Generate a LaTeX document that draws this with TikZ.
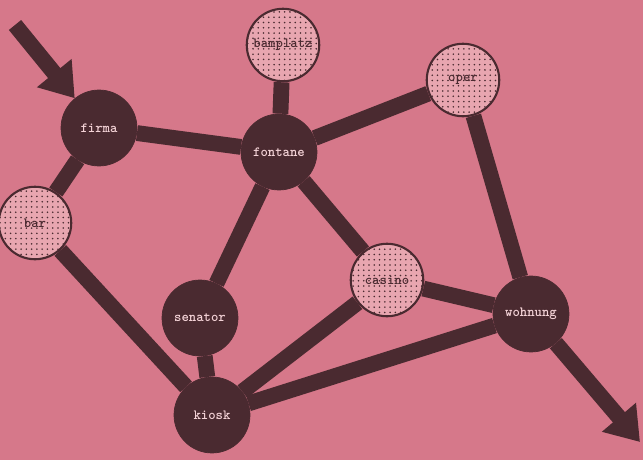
\documentclass[tikz,border=0pt]{standalone}
\usepackage{tikz}
\usetikzlibrary{arrows.meta, patterns, backgrounds}
\definecolor{bgpink}{RGB}{214,120,138}
\definecolor{darkplum}{RGB}{74,42,48}
\definecolor{lightpink}{RGB}{232,166,176}

\begin{document}
\begin{tikzpicture}[
    x=0.02cm, y=-0.02cm,
    dark/.style   = {circle, draw=darkplum, fill=darkplum, minimum size=1.52cm,
                     inner sep=0pt, text=lightpink!50!white,
                     font=\fontsize{8}{8}\selectfont\ttfamily\bfseries},
    light/.style  = {circle, draw=darkplum, line width=1.2pt, fill=lightpink,
                     minimum size=1.45cm, inner sep=0pt, text=darkplum,
                     postaction={pattern=dots, pattern color=darkplum},
                     font=\fontsize{8}{8}\selectfont\ttfamily\bfseries},
    edge/.style   = {line width=9pt, darkplum},
    flow/.style   = {line width=9pt, darkplum, -{Triangle[length=0.65cm, width=0.85cm]}},
]
\useasboundingbox (0,0) rectangle (643,460);

% Stations
\node[light] (bahn)    at (283,45)  {bamplatz};
\node[dark]  (firma)   at (99,128)  {firma};
\node[dark]  (fontane) at (279,152) {fontane};
\node[light] (oper)    at (463,80)  {oper};
\node[light] (bar)     at (35,223)  {bar};
\node[light] (casino)  at (387,280) {casino};
\node[dark]  (senator) at (200,318) {senator};
\node[dark]  (wohnung) at (531,314) {wohnung};
\node[dark]  (kiosk)   at (212,415) {kiosk};

\coordinate (in)  at (15,25);
\coordinate (out) at (640,442);

\begin{pgfonlayer}{background}
  \fill[bgpink] (0,0) rectangle (643,460);

  % Links
  \draw[edge] (firma)   -- (fontane);
  \draw[edge] (fontane) -- (bahn);
  \draw[edge] (fontane) -- (oper);
  \draw[edge] (firma)   -- (bar);
  \draw[edge] (bar)     -- (kiosk);
  \draw[edge] (fontane) -- (senator);
  \draw[edge] (fontane) -- (casino);
  \draw[edge] (senator) -- (kiosk);
  \draw[edge] (casino)  -- (kiosk);
  \draw[edge] (casino)  -- (wohnung);
  \draw[edge] (oper)    -- (wohnung);
  \draw[edge] (kiosk)   -- (wohnung);

  % Entry and exit
  \draw[flow] (in) -- (firma);
  \draw[flow] (wohnung) -- (out);
\end{pgfonlayer}

\end{tikzpicture}
\end{document}
